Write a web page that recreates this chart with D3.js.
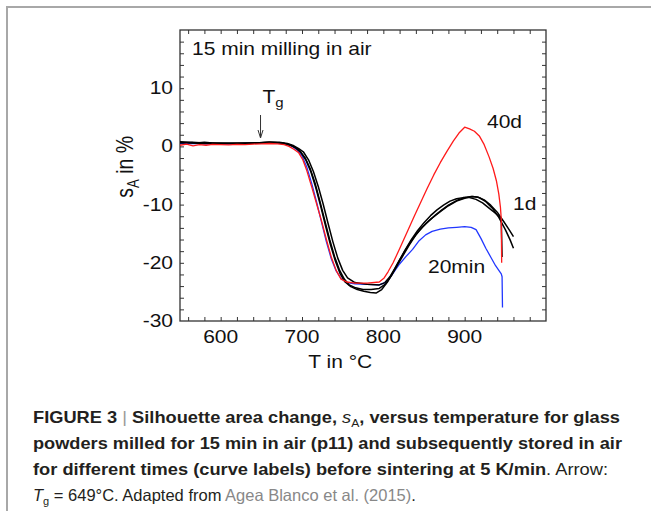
<!DOCTYPE html>
<html>
<head>
<meta charset="utf-8">
<script src="https://cdn.jsdelivr.net/npm/d3@7"></script>
<style>
  body { margin: 0; background: #fff; }
  svg { display: block; }
</style>
</head>
<body>
<div id="my_dataviz"></div>
<script>
// data (T in °C, sA in %)
const redT = [550,558,566,574,582,590,600,610,620,630,640,650,660,670,678,684,690,696,701,706,712,718,724,730,736,742,748,755,765,780,795,801,806,812,820,830,838,846,854,862,870,878,886,893,900,906,912,918,924,930,935,939,942,944,945,945.5];
const redS = [0.2,0.4,0.1,0.3,0.2,0.35,0.3,0.25,0.35,0.3,0.4,0.45,0.5,0.45,0.3,0,-0.5,-1.1,-2.3,-4.2,-7.0,-9.9,-12.8,-16.0,-19.0,-21.3,-22.8,-23.3,-23.5,-23.5,-23.3,-22.6,-21.5,-20.0,-17.6,-14.5,-12.0,-9.6,-7.2,-4.9,-2.8,-0.9,0.9,2.3,3.3,3.0,2.6,1.8,0.3,-1.8,-3.8,-5.9,-8.2,-10.5,-12.5,-20.0];

const blueT = [550,570,590,610,630,650,670,680,688,694,700,706,712,718,724,730,736,742,748,755,765,780,795,802,808,814,820,828,836,844,852,860,870,880,890,900,908,914,920,926,932,938,942,945,946,946.5];
const blueS = [0.5,0.5,0.4,0.4,0.5,0.6,0.6,0.4,0,-0.6,-1.6,-3.6,-6.4,-9.6,-13.0,-16.4,-19.3,-21.4,-22.7,-23.4,-23.6,-23.7,-23.8,-23.4,-22.6,-21.4,-20.2,-18.9,-17.7,-16.2,-15.2,-14.6,-14.2,-14.0,-13.9,-13.8,-13.9,-14.3,-15.8,-17.5,-19.0,-20.5,-21.3,-21.9,-22.4,-27.7];

const black1T = [550,560,570,580,590,600,615,630,645,660,672,682,690,696,702,708,714,720,726,732,738,744,750,756,765,780,795,802,808,814,820,828,836,844,852,860,870,880,890,900,908,916,924,932,940,948,955,960];
const black1S = [0.8,0.7,0.6,0.7,0.6,0.5,0.5,0.5,0.6,0.7,0.7,0.5,0.1,-0.4,-1.0,-2.3,-4.3,-6.9,-9.9,-13.2,-16.4,-19.2,-21.3,-22.6,-23.4,-23.7,-23.8,-23.4,-22.4,-21.0,-19.5,-17.6,-15.9,-14.5,-13.3,-12.3,-11.2,-10.2,-9.4,-8.9,-8.6,-8.7,-9.2,-10.1,-11.3,-12.9,-14.4,-15.5];

const black2T = [550,565,580,600,620,640,660,675,685,692,698,704,710,716,722,728,734,740,746,752,758,766,775,785,795,803,810,817,824,832,840,848,856,864,872,880,890,900,910,918,926,934,942,950,956,960];
const black2S = [0.6,0.7,0.6,0.5,0.6,0.6,0.7,0.6,0.3,-0.2,-0.9,-2.0,-3.8,-6.3,-9.4,-12.7,-16.0,-18.9,-21.2,-22.8,-23.8,-24.3,-24.6,-24.6,-24.4,-23.6,-22.2,-20.5,-18.8,-16.9,-15.2,-13.9,-12.8,-11.8,-10.9,-10.1,-9.3,-8.8,-8.6,-8.8,-9.5,-10.6,-12.2,-14.3,-16.1,-17.5];

const black3T = [550,565,580,600,620,640,660,676,686,693,699,705,711,717,723,729,735,741,747,753,760,768,776,784,791,798,805,812,819,826,834,842,850,858,866,874,882,890,898,906,914,922,930,937,942,945,946];
const black3S = [0.7,0.6,0.5,0.6,0.5,0.6,0.7,0.6,0.2,-0.3,-1.1,-2.4,-4.4,-7.1,-10.3,-13.7,-16.9,-19.7,-21.9,-23.3,-24.1,-24.6,-24.9,-25.1,-25.2,-24.6,-23.3,-21.6,-19.8,-18.0,-16.1,-14.5,-13.1,-11.9,-10.9,-10.1,-9.4,-9.0,-8.8,-8.8,-9.1,-9.7,-10.6,-11.4,-12.0,-12.5,-19.0];

const xTicks = [600, 700, 800, 900];
const yTicks = [-30, -20, -10, 0, 10];
const Tg = 649;

// 1. sizes
const W = 651, H = 511;
const margin = { top: 30, right: 105, bottom: 190, left: 180 },
  width = W - margin.left - margin.right,
  height = H - margin.top - margin.bottom;
const SX = 1.2;            // figure text is stretched horizontally
const FONT = "'Liberation Sans', Arial, Helvetica, sans-serif";

const svg = d3.select("#my_dataviz")
  .append("svg")
  .attr("width", W)
  .attr("height", H);

// page frame (top + left grey rule)
svg.append("path")
  .attr("d", `M7,${H} L7,7 L${W},7`)
  .attr("fill", "none")
  .attr("stroke", "#a8a8a8")
  .attr("stroke-width", 2);

const g = svg.append("g")
  .attr("transform", `translate(${margin.left}, ${margin.top})`);

// 2. scales
const x = d3.scaleLinear().domain([550, 1000]).range([0, width]);
const y = d3.scaleLinear().domain([-30, 20]).range([height, 0]);

// 3. axes (ticks inward on all four sides)
const tk = 4;
const xMinor = d3.range(560, 1000, 20);
const yMinor = d3.range(-28, 20, 2);
const noLab = () => "";

g.append("g").attr("transform", `translate(0, ${height})`)
  .call(d3.axisBottom(x).tickValues(xMinor).tickSize(-tk).tickSizeOuter(0).tickFormat(noLab));
g.append("g")
  .call(d3.axisTop(x).tickValues(xMinor).tickSize(-tk).tickSizeOuter(0).tickFormat(noLab));
g.append("g")
  .call(d3.axisLeft(y).tickValues(yMinor).tickSize(-tk).tickSizeOuter(0).tickFormat(noLab));
g.append("g").attr("transform", `translate(${width}, 0)`)
  .call(d3.axisRight(y).tickValues(yMinor).tickSize(-tk).tickSizeOuter(0).tickFormat(noLab));
g.selectAll(".domain").remove();
g.selectAll(".tick line").attr("stroke", "#333").attr("stroke-width", 1);

g.append("rect")
  .attr("width", width)
  .attr("height", height)
  .attr("fill", "none")
  .attr("stroke", "#333")
  .attr("stroke-width", 1.3);

// stretched text helper
function label(sel, px, py, str, size, anchor) {
  return sel.append("text")
    .attr("transform", `translate(${px}, ${py}) scale(${SX}, 1)`)
    .attr("font-family", FONT)
    .attr("font-size", size)
    .attr("fill", "#111")
    .attr("text-anchor", anchor || "start")
    .text(str);
}

xTicks.forEach((t) => label(g, x(t), height + 22, t, 17.5, "middle"));
yTicks.forEach((t) => label(g, -7, y(t) + 6, t, 17.5, "end"));

label(g, x(747), height + 47, "T in °C", 17.5, "middle");

// y title: s_A in %
const yt = g.append("text")
  .attr("transform", `translate(-47, ${y(-3.5)}) rotate(-90) scale(1, ${SX})`)
  .attr("font-family", FONT)
  .attr("font-size", 19.5)
  .attr("fill", "#111")
  .attr("text-anchor", "middle");
yt.append("tspan").text("s");
yt.append("tspan").attr("font-size", 13).attr("dy", 5).text("A");
yt.append("tspan").attr("dy", -5).text(" in %");

// 4. curves
const line = d3.line().x((d) => x(d[0])).y((d) => y(d[1]));
const series = [
  { T: blueT, S: blueS, c: "#2137ff", w: 1.3 },
  { T: black1T, S: black1S, c: "#000", w: 1.5 },
  { T: black2T, S: black2S, c: "#000", w: 1.5 },
  { T: black3T, S: black3S, c: "#000", w: 1.5 },
  { T: redT, S: redS, c: "#ff1a1a", w: 1.3 }
];
series.forEach((s) => {
  g.append("path")
    .datum(d3.zip(s.T, s.S))
    .attr("d", line)
    .attr("fill", "none")
    .attr("stroke", s.c)
    .attr("stroke-width", s.w)
    .attr("stroke-linejoin", "round");
});

// 5. annotations
label(g, 12, 25, "15 min milling in air", 17.5);
const tg = label(g, x(Tg) + 2, 73, "T", 17.5);
tg.append("tspan").attr("font-size", 12.5).attr("dy", 4).text("g");

g.append("line")
  .attr("x1", x(Tg)).attr("x2", x(Tg))
  .attr("y1", 85).attr("y2", 107)
  .attr("stroke", "#333").attr("stroke-width", 1);
g.append("path")
  .attr("d", `M${x(Tg) - 2.5},${100} L${x(Tg)},${108} L${x(Tg) + 2.5},${100}`)
  .attr("fill", "none").attr("stroke", "#333").attr("stroke-width", 1);

label(g, 307, 98, "40d", 17.5);
label(g, 333, 180, "1d", 17.5);
label(g, 248, 243, "20min", 17.5);

// 6. caption
const cap = svg.append("g")
  .attr("font-family", FONT)
  .attr("font-size", 16.5)
  .attr("fill", "#231f20");

const capLines = [
  { y: 423, w: 587, parts: [
    ["FIGURE 3 ", "b"], ["| ", "bar"], ["Silhouette area change, ", "b"], ["s", "i"], ["A", "sub"],
    [", versus temperature for glass", "b"] ] },
  { y: 449, w: 589, parts: [
    ["powders milled for 15 min in air (p11) and subsequently stored in air", "b"] ] },
  { y: 475, w: 575, parts: [
    ["for different times (curve labels) before sintering at 5 K/min", "b"], [". Arrow:", "n"] ] },
  { y: 501, w: null, parts: [
    ["T", "i"], ["g", "sub"], [" = 649°C. Adapted from ", "n"], ["Agea Blanco et al. (2015)", "link"], [".", "n"] ] }
];

capLines.forEach((ln) => {
  const t = cap.append("text").attr("x", 33).attr("y", ln.y);
  let shifted = false;
  ln.parts.forEach(([str, kind]) => {
    const sp = t.append("tspan").text(str);
    if (shifted && kind !== "sub") { sp.attr("dy", -4); shifted = false; }
    if (kind === "b") sp.attr("font-weight", "bold");
    if (kind === "i") sp.attr("font-style", "italic");
    if (kind === "bar") sp.attr("fill", "#999");
    if (kind === "link") sp.attr("fill", "#888");
    if (kind === "sub") { sp.attr("font-size", 11).attr("dy", 4); shifted = true; }
  });
  if (ln.w) t.attr("textLength", ln.w).attr("lengthAdjust", "spacingAndGlyphs");
});
</script>
</body>
</html>
